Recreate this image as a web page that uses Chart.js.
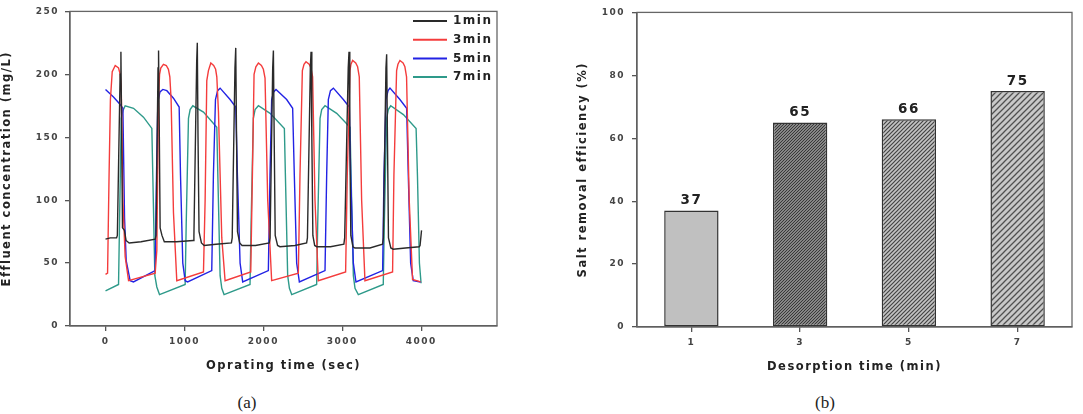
<!DOCTYPE html>
<html><head><meta charset="utf-8">
<script src="https://cdn.jsdelivr.net/npm/chart.js@4.4.1/dist/chart.umd.min.js"></script>
<style>
html,body{margin:0;padding:0;background:#fff;width:1083px;height:414px;overflow:hidden;}
#wa{position:absolute;left:0;top:0;width:505px;height:385px;}
#wb{position:absolute;left:560px;top:0;width:523px;height:385px;}
.cap{position:absolute;top:393px;line-height:20px;font-family:"Liberation Serif","DejaVu Serif",serif;font-size:17px;color:#222;width:60px;text-align:center;}
</style></head><body>
<div id="wa"><canvas id="ca"></canvas></div>
<div id="wb"><canvas id="cb"></canvas></div>
<div class="cap" style="left:217px">(a)</div>
<div class="cap" style="left:795px">(b)</div>
<script>
// ---------- Panel (a) data: [time (s), concentration (mg/L)] ----------
const seriesNames = ['1min','3min','5min','7min'];
const timeTicks = [0,1000,2000,3000,4000];
const concTicks = [0,50,100,150,200,250];

const series1min = [[0,69],[60,70],[140,70],[150,72],[185,200],[195,218],[205,150],[215,78],[240,76],[260,68],[300,66],[450,67],[630,69],[640,72],[665,205],[672,219],[682,150],[692,78],[715,72],[745,67],[900,67],[1110,68],[1120,72],[1155,210],[1163,225],[1172,150],[1185,75],[1215,66],[1250,64],[1400,65],[1595,66],[1605,70],[1640,205],[1650,221],[1660,150],[1672,75],[1700,66],[1730,64],[1900,64],[2075,66],[2085,70],[2118,205],[2127,219],[2137,150],[2150,72],[2180,64],[2210,63],[2400,64],[2548,66],[2558,70],[2595,205],[2604,218],[2614,150],[2627,72],[2650,64],[2676,63],[2850,63],[3020,65],[3030,70],[3075,205],[3085,218],[3095,150],[3108,72],[3135,63],[3160,62],[3350,62],[3510,65],[3520,70],[3553,205],[3562,216],[3572,150],[3585,70],[3615,62],[3645,61],[3800,62],[3975,63],[3985,64],[4004,76]];

const series3min = [[0,41],[26,42],[45,120],[62,180],[85,202],[123,207],[165,205],[186,200],[199,190],[220,100],[249,55],[292,36],[629,42],[650,60],[671,180],[685,200],[700,205],[734,208],[770,207],[797,204],[815,198],[831,180],[861,90],[903,36],[1241,43],[1262,100],[1283,195],[1304,203],[1334,209],[1370,207],[1395,204],[1410,198],[1431,170],[1473,70],[1515,36],[1840,43],[1861,120],[1882,200],[1905,206],[1937,209],[1975,207],[2000,204],[2021,197],[2055,100],[2105,36],[2443,42],[2464,120],[2494,203],[2515,208],[2540,210],[2580,208],[2603,205],[2624,198],[2654,100],[2696,36],[3042,43],[3063,120],[3097,203],[3110,208],[3131,211],[3170,209],[3194,206],[3215,198],[3245,100],[3287,36],[3637,43],[3654,120],[3688,203],[3705,208],[3730,211],[3770,209],[3793,206],[3814,198],[3848,100],[3890,37],[3992,35]];

const series5min = [[0,188],[101,182],[186,176],[220,173],[241,86],[262,52],[312,36],[354,35],[629,44],[646,120],[663,178],[690,186],[726,188],[777,187],[861,181],[933,174],[950,120],[979,50],[1009,36],[1040,35],[1346,44],[1367,120],[1393,180],[1420,187],[1452,189],[1578,180],[1650,174],[1671,120],[1705,50],[1738,35],[2063,44],[2084,120],[2105,180],[2130,186],[2160,188],[2295,180],[2371,173],[2392,120],[2422,50],[2456,35],[2781,44],[2802,120],[2823,180],[2850,187],[2887,189],[3013,180],[3089,174],[3106,120],[3140,50],[3173,35],[3511,44],[3528,120],[3553,180],[3580,187],[3604,189],[3730,180],[3815,173],[3836,120],[3866,50],[3899,36],[3992,35]];

const series7min = [[0,28],[165,33],[177,80],[199,165],[220,171],[249,175],[355,173],[481,166],[587,157],[599,120],[625,40],[650,31],[684,25],[1009,33],[1022,80],[1051,165],[1072,172],[1106,175],[1241,170],[1410,158],[1423,120],[1452,40],[1473,30],[1502,25],[1831,33],[1844,80],[1873,165],[1895,172],[1937,175],[2085,169],[2266,157],[2279,120],[2308,40],[2330,30],[2359,25],[2675,33],[2688,80],[2718,165],[2739,172],[2781,175],[2929,169],[3098,158],[3111,120],[3140,40],[3161,30],[3203,25],[3519,33],[3532,80],[3562,165],[3583,172],[3613,175],[3774,168],[3935,157],[3952,120],[3977,50],[3998,34]];

// ---------- Panel (b) data ----------
const desorptionTimes = ['1','3','5','7'];
const removalEfficiency = [37,65,66,75];
const effTicks = [0,20,40,60,80,100];

// ---------- styling ----------
const FONT = '"DejaVu Sans", Verdana, sans-serif';
Chart.defaults.font.family = FONT;
Chart.defaults.font.weight = 'bold';
const lineColors = ['#2a2a2a','#f43c3c','#2222e4','#2e9a8a'];
const rows = [series1min, series3min, series5min, series7min];

const spacing = {id:'spacing',
  beforeUpdate(c){ c.ctx.letterSpacing = '1.5px'; },
  beforeDraw(c){ c.ctx.letterSpacing = '1.5px'; }
};
const frame = {id:'frame', afterDraw(c){
  const {left,top,right,bottom} = c.chartArea; const x = c.ctx;
  x.save(); x.strokeStyle = '#666'; x.lineWidth = 1.3;
  x.strokeRect(left, top, right-left, bottom-top); x.restore();
}};
const legendA = {id:'legendA', afterDraw(c){
  const x = c.ctx; const x0 = c.chartArea.right - 84;
  x.save(); x.font = 'bold 12px ' + FONT; x.textBaseline = 'middle'; x.textAlign = 'left'; x.fillStyle = '#222';
  c.data.datasets.forEach((d,i)=>{
    const y = 21 + i*18.7;
    x.strokeStyle = d.borderColor; x.lineWidth = 2;
    x.beginPath(); x.moveTo(x0, y); x.lineTo(x0+34, y); x.stroke();
    x.fillText(d.label, x0+40, y);
  });
  x.restore();
}};
const barLabels = {id:'barLabels', afterDatasetsDraw(c){
  const x = c.ctx; const meta = c.getDatasetMeta(0); const ds = c.data.datasets[0];
  x.save(); x.font = 'bold 13.5px ' + FONT; x.fillStyle = '#222'; x.textAlign = 'center'; x.textBaseline = 'bottom';
  meta.data.forEach((b,i)=> x.fillText(String(ds.data[i]), b.x, b.y - 3));
  x.restore();
}};

function hatch(bg, fg, s, lw){
  const cv = document.createElement('canvas'); cv.width = s; cv.height = s;
  const g = cv.getContext('2d');
  g.fillStyle = bg; g.fillRect(0,0,s,s);
  g.strokeStyle = fg; g.lineWidth = lw; g.beginPath();
  g.moveTo(-1, s+1); g.lineTo(s+1, -1);
  g.moveTo(-1, 1); g.lineTo(1, -1);
  g.moveTo(s-1, s+1); g.lineTo(s+1, s-1);
  g.stroke();
  return g.createPattern(cv, 'repeat');
}

function axisCommon(){
  return {
    grid:{drawOnChartArea:false, drawTicks:true, tickLength:5, color:'#555', lineWidth:1.3, offset:false},
    border:{color:'#555', width:1.3},
  };
}

// ---------- Chart (a) ----------
new Chart(document.getElementById('ca'), {
  type:'line',
  data:{datasets: seriesNames.map((n,i)=>({
    label:n, data: rows[i].map(([t,v])=>({x:t, y:v})),
    borderColor: lineColors[i], borderWidth:1.4, pointRadius:0, tension:0, fill:false
  }))},
  options:{
    responsive:true, maintainAspectRatio:false, animation:false,
    layout:{padding:{top:9, right:8, left:0, bottom:0}},
    plugins:{legend:{display:false}, tooltip:{enabled:false}},
    scales:{
      x:Object.assign(axisCommon(), {
        type:'linear', min:-450, max:4960,
        afterBuildTicks(s){ s.ticks = timeTicks.map(v=>({value:v})); },
        afterFit(s){ s.height = 59; },
        ticks:{font:{size:9, weight:'bold'}, color:'#444', padding:5, maxRotation:0, callback:v=>String(v)},
        title:{display:true, text:'Oprating time (sec)', font:{size:11.5, weight:'bold'}, color:'#222', padding:{top:0, bottom:12}}
      }),
      y:Object.assign(axisCommon(), {
        min:0, max:250,
        afterBuildTicks(s){ s.ticks = concTicks.map(v=>({value:v})); },
        afterFit(s){ s.width = 70; },
        ticks:{font:{size:9, weight:'bold'}, color:'#444', padding:6, callback:v=>String(v)},
        title:{display:true, text:'Effluent concentration (mg/L)', font:{size:11.5, weight:'bold'}, color:'#222', padding:{top:0, bottom:0}}
      })
    }
  },
  plugins:[spacing, frame, legendA]
});

// ---------- Chart (b) ----------
const barFills = ['#c0c0c0', hatch('#a8a8a8','#333',3,1.1), hatch('#c4c4c4','#444',4,1.2), hatch('#c8c8c8','#505050',6,1.3)];
new Chart(document.getElementById('cb'), {
  type:'bar',
  data:{labels: desorptionTimes, datasets:[{
    data: removalEfficiency, backgroundColor: barFills, borderColor:'#333', borderWidth:1.5,
    borderSkipped:false, barPercentage:0.5, categoryPercentage:1
  }]},
  options:{
    responsive:true, maintainAspectRatio:false, animation:false,
    layout:{padding:{top:12, right:11, left:0, bottom:0}},
    plugins:{legend:{display:false}, tooltip:{enabled:false}},
    scales:{
      x:Object.assign(axisCommon(), {
        afterFit(s){ s.height = 58; },
        ticks:{font:{size:9, weight:'bold'}, color:'#444', padding:5, maxRotation:0},
        title:{display:true, text:'Desorption time (min)', font:{size:11.5, weight:'bold'}, color:'#222', padding:{top:0, bottom:11}}
      }),
      y:Object.assign(axisCommon(), {
        min:0, max:100,
        afterBuildTicks(s){ s.ticks = effTicks.map(v=>({value:v})); },
        afterFit(s){ s.width = 77; },
        ticks:{font:{size:9, weight:'bold'}, color:'#444', padding:7, callback:v=>String(v)},
        title:{display:true, text:'Salt removal efficiency (%)', font:{size:11.5, weight:'bold'}, color:'#222', padding:{top:16, bottom:0}}
      })
    }
  },
  plugins:[spacing, frame, barLabels]
});
</script>
</body></html>
